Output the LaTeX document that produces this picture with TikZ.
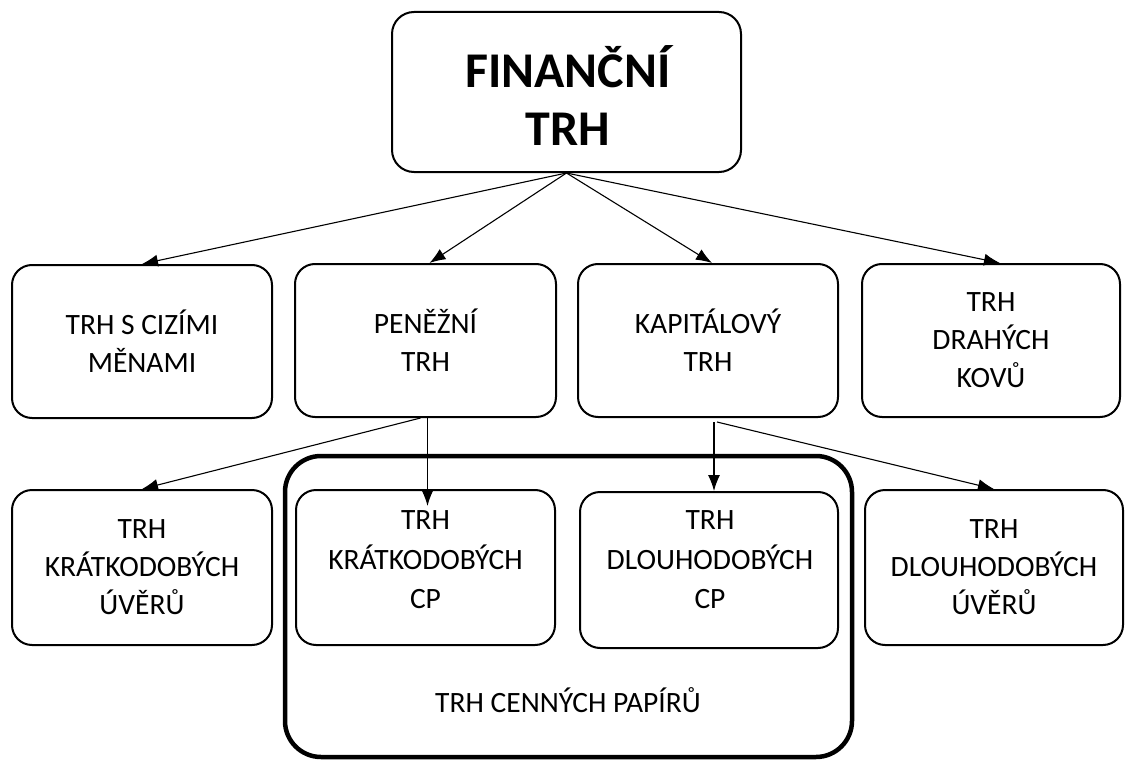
\documentclass[tikz,border=0pt]{standalone}
\usepackage{fontspec}
\setmainfont{Carlito}
\usetikzlibrary{arrows.meta}
\tikzset{
  box/.style={draw, line width=2pt, rounded corners=20pt, align=center, inner sep=0pt,
    font=\fontsize{29.5}{38}\selectfont},
  titlebox/.style={draw, line width=2pt, rounded corners=22pt},
  titletext/.style={align=center, inner sep=0pt, font=\fontsize{50}{58}\selectfont\bfseries},
  bigbox/.style={draw, line width=4.5pt, rounded corners=36pt},
  arr/.style={line width=1.1pt, -{Latex[length=16pt,width=12pt]}},
  lbl/.style={align=center, font=\fontsize{29.5}{39.5}\selectfont, inner sep=0pt}
}
\begin{document}
\begin{tikzpicture}[x=1pt,y=-1pt]
\useasboundingbox (0,0) rectangle (1128,760);
% big surrounding box
\draw[bigbox] (285,456) rectangle (852,757);
\node[lbl] (cp) at (568,700) {TRH CENNÝCH PAPÍRŮ};
% top
\node[titlebox, minimum width=349pt, minimum height=160pt] (top) at (566.5,92) {};
\node[titletext] (toptext) at (568,96) {FINANČNÍ\\TRH};
% row 2
\node[box, minimum width=260pt, minimum height=153pt] (A) at (142,341.5) {TRH S CIZÍMI\\MĚNAMI};
\node[box, minimum width=261pt, minimum height=153pt] (B) at (425.5,340.5) {PENĚŽNÍ\\TRH};
\node[box, minimum width=260pt, minimum height=153pt] (C) at (708,340.5) {KAPITÁLOVÝ\\TRH};
\node[box, minimum width=258pt, minimum height=153pt] (D) at (991,340.5) {TRH\\DRAHÝCH\\KOVŮ};
% row 3
\node[box, minimum width=260pt, minimum height=155pt] (E) at (142,567.5) {TRH\\KRÁTKODOBÝCH\\ÚVĚRŮ};
\node[box, minimum width=259pt, minimum height=155pt] (F) at (425.5,567.5) {};
\node[lbl] (Ftext) at (425.5,560) {TRH\\KRÁTKODOBÝCH\\CP};
\node[box, minimum width=258pt, minimum height=156pt] (G) at (709,570) {};
\node[lbl] (Gtext) at (710,560) {TRH\\DLOUHODOBÝCH\\CP};
\node[box, minimum width=258pt, minimum height=155pt] (H) at (994,567.5) {TRH\\DLOUHODOBÝCH\\ÚVĚRŮ};
% connectors
\draw[arr] (top.south) -- (A.north);
\draw[arr] (top.south) -- ([xshift=4pt]B.north);
\draw[arr] (top.south) -- ([xshift=4pt]C.north);
\draw[arr] (top.south) -- ([xshift=9pt]D.north);
\draw[arr, shorten >=-17pt] ([xshift=2pt]B.south) -- ([xshift=2pt]F.north);
\draw[arr] ([xshift=-5pt]B.south) -- (E.north);
\draw[arr] ([xshift=6pt,yshift=-4pt]C.south) -- ([xshift=5pt]G.north);
\draw[arr] ([xshift=9pt,yshift=-4pt]C.south) -- (H.north);
\end{tikzpicture}
\end{document}
